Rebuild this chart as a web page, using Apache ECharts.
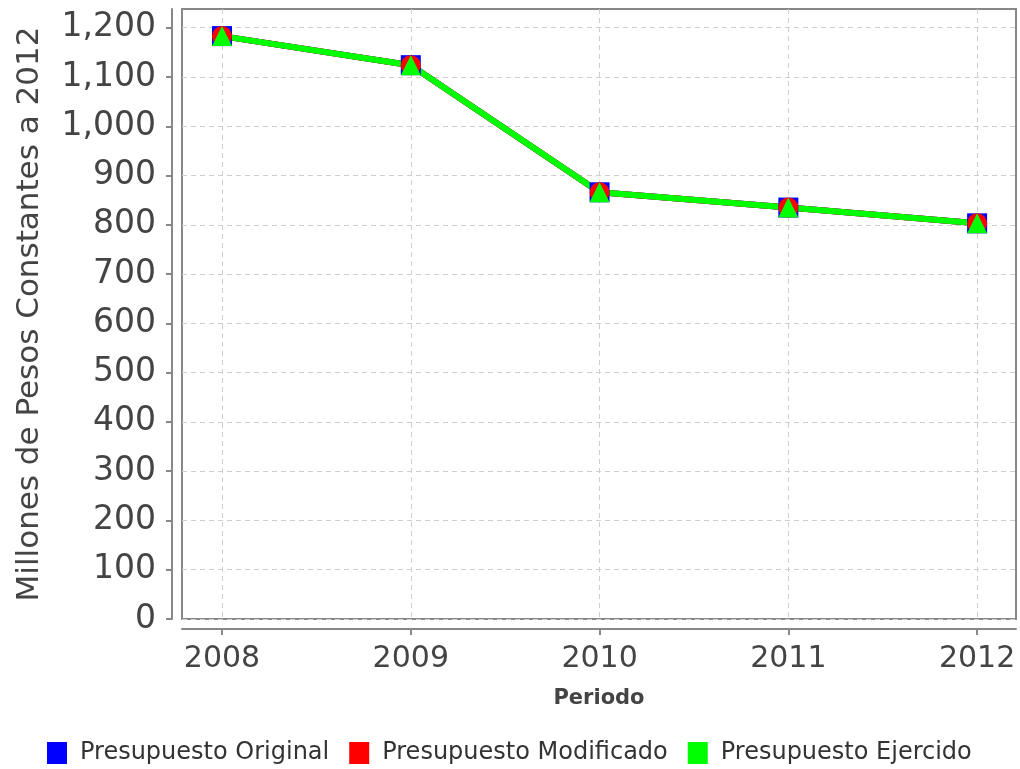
<!DOCTYPE html>
<html><head><meta charset="utf-8">
<script src="https://cdn.jsdelivr.net/npm/echarts@6/dist/echarts.min.js"></script>
<style>html,body{margin:0;padding:0;background:#fff}#c{width:1020px;height:769px}</style>
</head><body><div id="c"></div>
<script>
const years = [2008, 2009, 2010, 2011, 2012];
const presupuestoOriginal = [1183, 1124, 866, 835, 803];
const presupuestoModificado = [1183, 1124, 866, 835, 803];
const presupuestoEjercido = [1183, 1124, 866, 835, 803];
const yTicks = [0, 100, 200, 300, 400, 500, 600, 700, 800, 900, 1000, 1100, 1200];
const seriesNames = ['Presupuesto Original', 'Presupuesto Modificado', 'Presupuesto Ejercido'];
const seriesColors = ['#0000ff', '#ff0000', '#00ff00'];
const seriesSymbols = ['rect', 'circle', 'triangle'];
const seriesValues = [presupuestoOriginal, presupuestoModificado, presupuestoEjercido];

const font = 'DejaVu Sans';
const chart = echarts.init(document.getElementById('c'), null, {renderer: 'canvas'});

const lineSeries = seriesNames.map((n, i) => ({
  name: n, type: 'line', symbol: 'none', z: 2,
  data: years.map((y, j) => [y, seriesValues[i][j]]),
  lineStyle: {color: seriesColors[i], width: 6},
  itemStyle: {color: seriesColors[i]},
  animation: false
}));
const markerSeries = seriesNames.map((n, i) => ({
  name: n, type: 'scatter', symbol: seriesSymbols[i], symbolSize: 20, z: 3,
  data: years.map((y, j) => [y, seriesValues[i][j]]),
  itemStyle: {color: seriesColors[i], opacity: 1},
  animation: false
}));

chart.setOption({
  backgroundColor: '#ffffff',
  animation: false,
  grid: {left: 182, right: 4, top: 9, bottom: 150, show: true, borderColor: '#888', borderWidth: 2, backgroundColor: '#fff'},
  xAxis: {
    type: 'value', min: 2007.788, max: 2012.206, offset: 10,
    name: 'Periodo', nameLocation: 'middle', nameGap: 59,
    nameTextStyle: {fontFamily: font, fontSize: 21, fontWeight: 'bold', color: '#444'},
    axisLine: {show: true, onZero: false, lineStyle: {color: '#888', width: 2}},
    axisTick: {show: true, length: 6, customValues: years, lineStyle: {color: '#888', width: 2}},
    axisLabel: {customValues: years, margin: 15, fontFamily: font, fontSize: 30, color: '#444', formatter: v => String(v)},
    splitLine: {show: true, lineStyle: {color: '#cfcfcf', type: [5, 4], width: 1}}
  },
  yAxis: {
    type: 'value', min: 0, max: 1238, interval: 100, offset: 10,
    name: 'Millones de Pesos Constantes a 2012', nameLocation: 'middle', nameGap: 127, nameRotate: 90,
    nameTextStyle: {fontFamily: font, fontSize: 31, color: '#444'},
    axisLine: {show: true, onZero: false, lineStyle: {color: '#888', width: 2}},
    axisTick: {show: true, length: 6, customValues: yTicks, lineStyle: {color: '#888', width: 2}},
    axisLabel: {customValues: yTicks, margin: 16, fontFamily: font, fontSize: 33, color: '#444',
      formatter: v => v.toLocaleString('en-US')},
    splitLine: {show: true, lineStyle: {color: '#cfcfcf', type: [5, 4], width: 1}}
  },
  legend: {
    left: 42, top: 736, itemWidth: 20, itemHeight: 22, itemGap: 20,
    data: seriesNames.map(n => ({name: n, icon: 'rect'})),
    textStyle: {fontFamily: font, fontSize: 24, color: '#333', padding: [0, 0, 0, 8]}
  },
  series: [...lineSeries, ...markerSeries]
});
</script>
</body></html>
